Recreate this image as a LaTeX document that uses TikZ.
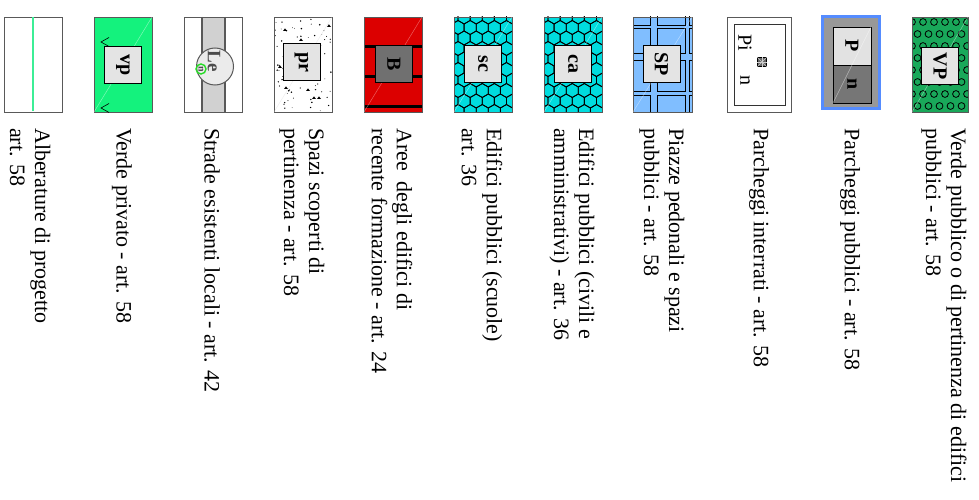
\documentclass[tikz,border=0pt]{standalone}
\usepackage{fontspec}
\usetikzlibrary{calc}
\setmainfont{Liberation Serif}
\definecolor{vpgreen}{RGB}{25,168,90}
\definecolor{pblue}{RGB}{85,140,255}
\definecolor{pgray}{RGB}{152,152,152}
\definecolor{plight}{RGB}{226,226,226}
\definecolor{pdark}{RGB}{118,118,118}
\definecolor{spblue}{RGB}{128,190,255}
\definecolor{hexcyan}{RGB}{0,220,222}
\definecolor{bred}{RGB}{220,0,0}
\definecolor{bgray}{RGB}{112,112,112}
\definecolor{inlight}{RGB}{228,228,228}
\definecolor{vpbright}{RGB}{20,242,125}
\definecolor{treegreen}{RGB}{60,238,150}
\begin{document}
\begin{tikzpicture}[x=1pt,y=-1pt,
  box/.style={draw=black!65, line width=0.9pt},
  inbox/.style={draw=black, line width=1pt, fill=inlight, minimum width=37pt, minimum height=37pt, inner sep=0pt, rotate=-90, font=\fontsize{20}{20}\selectfont\bfseries},
  lbl/.style={rotate=-90, anchor=west, align=left, inner sep=0pt, font=\fontsize{22}{25}\selectfont},
  diag/.style={white, opacity=0.45, line width=0.5pt},
  hexline/.style={black, line width=0.8pt},
]
\useasboundingbox (0,0) rectangle (979,500);

% ---------- 1: Verde pubblico (VP)
\fill[vpgreen] (912,17) rectangle (968,112);
\begin{scope}
\clip (912,17) rectangle (968,112);
\foreach \r in {0,...,8}{\foreach \c in {0,...,5}{
  \pgfmathsetmacro\cx{912+\c*11+mod(\r,2)*5.5}
  \pgfmathsetmacro\cy{22+\r*12}
  \draw[line width=0.8pt] (\cx,\cy) circle (3.4pt);
}}
\end{scope}
\draw[box] (912,17) rectangle (968,112);
\draw[diag] (912,112) -- (968,17);
\node[inbox] (vp1) at (940,66) {VP};

% ---------- 2: Parcheggi pubblici (P / n)
\fill[pgray] (821,15) rectangle (881,110);
\draw[pblue, line width=2.6pt] (822.3,16.3) rectangle (879.7,108.7);
\node[draw=black, line width=0.9pt, fill=plight, minimum width=38pt, minimum height=38pt, inner sep=0pt, rotate=-90, font=\fontsize{20}{20}\selectfont\bfseries] (p1) at (852,46) {P};
\node[draw=black, line width=0.9pt, fill=pdark, minimum width=38pt, minimum height=38pt, inner sep=0pt, rotate=-90, font=\fontsize{20}{20}\selectfont\bfseries] (n1) at (852,84) {n};
\draw[diag] (833,103) -- (871,27);

% ---------- 3: Parcheggi interrati (Pi n)
\draw[box] (727,17) rectangle (791,112);
\draw[black!80, line width=0.8pt] (734,24) rectangle (785,105);
\node[rotate=-90, inner sep=0pt, font=\fontsize{20}{20}\selectfont] (pi3) at (745,43) {Pi};
\node[rotate=-90, inner sep=0pt, font=\fontsize{20}{20}\selectfont] (n3) at (745,81) {n};
\node[draw=black, fill=black!60, minimum size=9pt, inner sep=0pt] (ic3) at (762,62) {};
\draw[white!80!black, line width=0.6pt] (ic3.north west) -- (ic3.south east) (ic3.north east) -- (ic3.south west);
\draw[white!80!black, line width=0.5pt] (ic3.north) -- (ic3.south) (ic3.west) -- (ic3.east);

% ---------- 4: Piazze pedonali (SP)
\fill[spblue] (633,17) rectangle (692,112);
\begin{scope}
\clip (633,17) rectangle (692,112);
\foreach \ya/\yb in {8/25, 28/53, 60/91, 95/118}{
  \foreach \xa/\xb in {620/650, 657/685, 689/710}{
    \draw[black, line width=0.8pt] (\xa,\ya) rectangle (\xb,\yb);
  }}
\end{scope}
\draw[box] (633,17) rectangle (692,112);
\draw[diag] (633,112) -- (692,17);
\node[inbox] (sp4) at (661.5,64) {SP};

% ---------- 5 & 6: Edifici pubblici (ca, sc)
\foreach \xo/\nm/\tx in {544/ca5/ca, 454/sc6/sc}{
  \fill[hexcyan] (\xo,17) rectangle (\xo+58,112);
  \begin{scope}
  \clip (\xo,17) rectangle (\xo+58,112);
  \foreach \r in {0,...,10}{\foreach \c in {0,...,5}{
    \pgfmathsetmacro\cx{\xo-2+\c*12.1+mod(\r,2)*6.05}
    \pgfmathsetmacro\cy{17+\r*10.5}
    \draw[hexline] (\cx,\cy) +(30:7) -- +(90:7) -- +(150:7) -- +(210:7) -- +(270:7) -- +(330:7) -- cycle;
  }}
  \end{scope}
  \draw[box] (\xo,17) rectangle (\xo+58,112);
  \draw[diag] (\xo,112) -- (\xo+58,17);
  \node[inbox] (\nm) at (\xo+29,64) {\tx};
}

% ---------- 7: Aree degli edifici (B)
\fill[bred] (364,17) rectangle (422,112);
\foreach \yy in {47,77,107}{\fill[black] (364,\yy-1.5) rectangle (422,\yy+1.5);}
\draw[box] (364,17) rectangle (422,112);
\draw[diag, white!80!red] (364,112) -- (422,17);
\node[inbox, fill=bgray] (b7) at (394,64) {B};

% ---------- 8: Spazi scoperti (pr)
\begin{scope}
\clip (274,17) rectangle (332,112);
\pgfmathsetseed{7}
\foreach \i in {1,...,80}{
  \pgfmathsetmacro\px{275+56*rnd}
  \pgfmathsetmacro\py{18+93*rnd}
  \pgfmathsetmacro\pr{0.35+0.55*rnd}
  \fill[black] (\px,\py) circle (\pr pt);
}
\foreach \px/\py in {283/31, 284/89, 306/91, 312/99, 317/99, 327/27, 278/68, 299/41}{
  \fill[black] (\px,\py) -- ++(2,-2.6) -- ++(2,2.6) -- cycle;
}
\end{scope}
\draw[box] (274,17) rectangle (332,112);
\draw[diag, black!15] (274,112) -- (332,17);
\node[inbox] (pr8) at (301.5,62.5) {pr};

% ---------- 9: Strade esistenti locali (Le)
\fill[black!18] (202,17) rectangle (225,112);
\draw[black!65, line width=1.1pt] (202,17) -- (202,112) (225,17) -- (225,112);
\draw[box] (184,17) rectangle (242,112);
\node[circle, draw=black!65, line width=1pt, fill=black!8, minimum size=37pt, inner sep=0pt] (le9) at (215,66.5) {};
\node[rotate=-90, inner sep=0pt, font=\fontsize{19}{19}\selectfont\bfseries, text=black!70] (let9) at (214,61) {Le};
\node[circle, draw={rgb,255:red,40;green,220;blue,40}, line width=1.4pt, minimum size=10pt, inner sep=0pt] (gc9) at (201,69) {};
\node[rotate=-90, inner sep=0pt, font=\fontsize{10}{10}\selectfont\bfseries, text=black!70] (gn9) at (gc9) {n};

% ---------- 10: Verde privato (vp)
\fill[vpbright] (94,17) rectangle (152,112);
\draw[box] (94,17) rectangle (152,112);
\coordinate (a10) at (101,42);
\coordinate (b10) at (101,108);
\draw[black, line width=0.6pt] ($(a10)+(8,-4.5)$) -- (a10) -- ($(a10)+(8,4.5)$);
\draw[black, line width=0.6pt] ($(b10)+(8,-4.5)$) -- (b10) -- ($(b10)+(8,4.5)$);
\draw[diag] (94,112) -- (152,17);
\node[inbox] (vp10) at (123,65) {vp};

% ---------- 11: Alberature di progetto
\draw[box] (4,17) rectangle (62,112);
\draw[treegreen, line width=2pt] (33,17.5) -- (33,111.5);

% ---------- labels
\node[lbl] (t1) at (944,128) {Verde pubblico o di pertinenza di edifici\\pubblici - art. 58};
\node[lbl] (t2) at (850,128) {Parcheggi pubblici - art. 58};
\node[lbl] (t3) at (759,128) {Parcheggi interrati - art. 58};
\node[lbl] (t4) at (662,128) {Piazze pedonali e spazi\\pubblici - art. 58};
\node[lbl] (t5) at (572,128) {Edifici pubblici (civili e\\amministrativi) - art. 36};
\node[lbl] (t6) at (482,128) {Edifici pubblici (scuole)\\art. 36};
\node[lbl] (t7) at (392,128) {Aree\ \ degli edifici di\\recente formazione - art. 24};
\node[lbl] (t8) at (302,128) {Spazi scoperti di\\pertinenza - art. 58};
\node[lbl] (t9) at (212,128) {Strade esistenti locali - art. 42};
\node[lbl] (t10) at (122,128) {Verde privato - art. 58};
\node[lbl] (t11) at (30,128) {Alberature di progetto\\art. 58};
\end{tikzpicture}
\end{document}
